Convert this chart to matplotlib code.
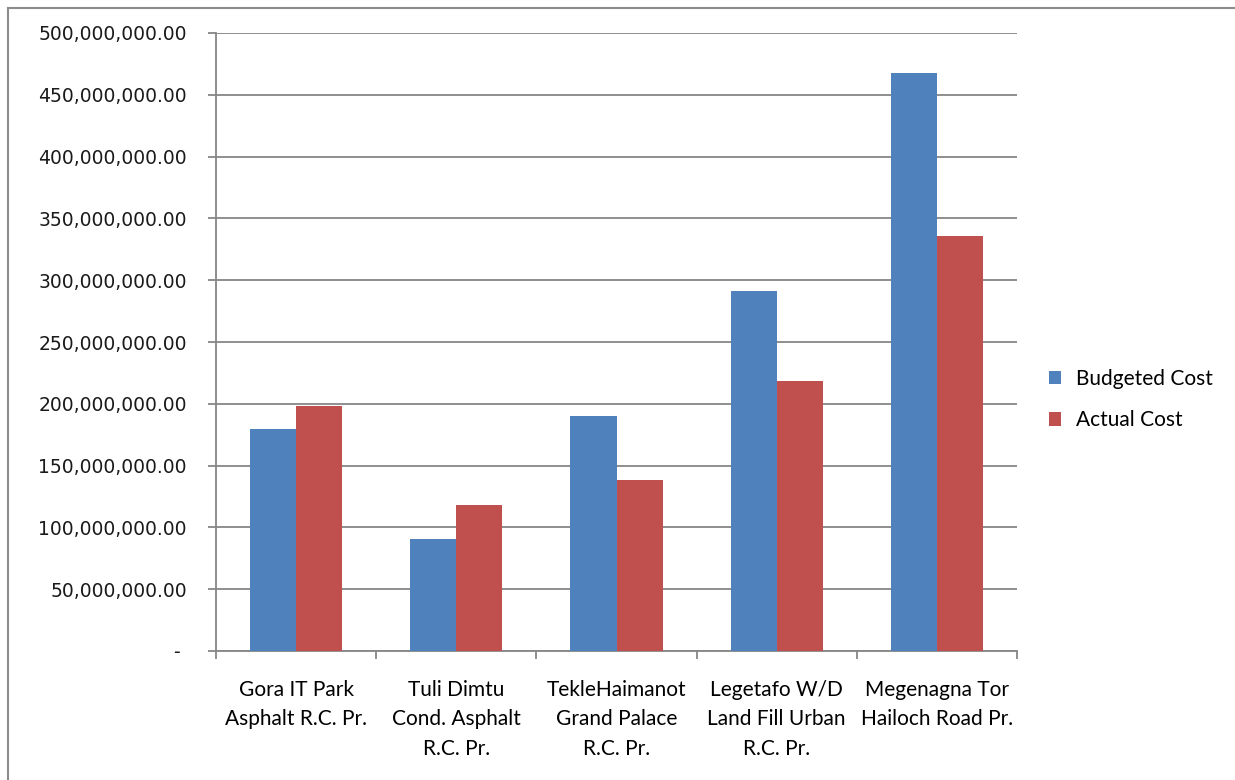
import matplotlib
matplotlib.use("Agg")
import matplotlib.pyplot as plt
from matplotlib.lines import Line2D
from matplotlib.ticker import FuncFormatter
import numpy as np

# Дані
projects = [
    "Gora IT Park\nAsphalt R.C. Pr.",
    "Tuli Dimtu\nCond. Asphalt\nR.C. Pr.",
    "TekleHaimanot\nGrand Palace\nR.C. Pr.",
    "Legetafo W/D\nLand Fill Urban\nR.C. Pr.",
    "Megenagna Tor\nHailoch Road Pr.",
]
budgeted_cost = [179_600_000, 90_800_000, 189_900_000, 291_400_000, 467_400_000]
actual_cost = [198_400_000, 118_100_000, 138_300_000, 218_400_000, 335_800_000]
series_names = ["Budgeted Cost", "Actual Cost"]

BLUE = "#4F81BD"
RED = "#C0504D"
GRID = "#868686"


def money(v, pos):
    if v == 0:
        return "- "
    return f"{v:,.2f}"


def main():
    fig = plt.figure(figsize=(12.35, 7.8), dpi=100)
    ax = fig.add_axes([216 / 1235, 1 - 651 / 780, (1017 - 216) / 1235, (651 - 33) / 780])

    x = np.arange(len(projects))
    w = 0.2875
    ax.bar(x - w / 2, budgeted_cost, w, color=BLUE, label=series_names[0], zorder=3)
    ax.bar(x + w / 2, actual_cost, w, color=RED, label=series_names[1], zorder=3)

    ax.set_xlim(-0.5, len(projects) - 0.5)
    ax.set_ylim(0, 500_000_000)
    ax.set_yticks(np.arange(0, 500_000_001, 50_000_000))
    ax.yaxis.set_major_formatter(FuncFormatter(money))
    ax.grid(axis="y", color=GRID, linewidth=1.3, zorder=0)

    # Тики між категоріями, підписи по центру
    ax.set_xticks(np.arange(-0.5, len(projects)), minor=False)
    ax.set_xticklabels([])
    ax.set_xticks(x, minor=True)
    ax.set_xticklabels(projects, minor=True, family="Lato", fontsize=15,
                       linespacing=1.58)
    ax.tick_params(axis="x", which="major", length=6, color=GRID, width=1.3)
    ax.tick_params(axis="x", which="minor", length=0, pad=21)
    ax.tick_params(axis="y", length=6, color=GRID, width=1.3, pad=15,
                   labelsize=13.5, labelcolor="#1a1a1a")

    for s in ["top", "right"]:
        ax.spines[s].set_visible(False)
    for s in ["left", "bottom"]:
        ax.spines[s].set_color(GRID)
        ax.spines[s].set_linewidth(1.3)

    ax.legend(loc="center left", bbox_to_anchor=(1.016, 0.407), frameon=False,
              prop={"family": "Lato", "size": 15}, handlelength=0.6,
              handleheight=0.6, handletextpad=0.7, labelspacing=1.04)

    # Рамка навколо діаграми
    fig.add_artist(Line2D([8 / 1235, 8 / 1235], [0, 1 - 8 / 780], color="#8c8c8c", lw=1.5,
                          transform=fig.transFigure))
    fig.add_artist(Line2D([8 / 1235, 1], [1 - 8 / 780, 1 - 8 / 780], color="#8c8c8c", lw=1.5,
                          transform=fig.transFigure))

    fig.savefig("out.png", dpi=100)


if __name__ == "__main__":
    main()
